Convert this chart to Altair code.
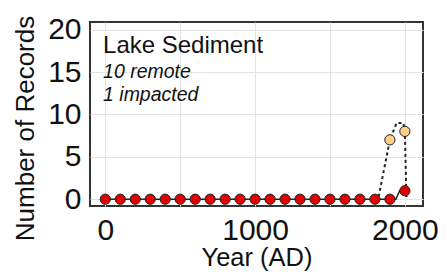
import altair as alt
import pandas as pd

# impacted records (red) and remote records (orange), per century
years = list(range(0, 2001, 100))
impacted = [0] * 20 + [1]
remote_years = [1900, 2000]
remote = [7, 8]

# finer-resolution count lines
imp_line_years = list(range(0, 1901, 100)) + [1940, 1965, 1988, 2015]
imp_line_vals = [0] * 20 + [0, 1, 1, 0.3]
rem_line_years = [1825, 1900, 1945, 1990, 2000, 2010]
rem_line_vals = [0.3, 7, 9, 9, 8, 0.3]

title_text = ["Lake Sediment"]
title_y = [17.3]
sub_text = ["10 remote", "1 impacted"]
sub_y = [14.3, 11.6]

FONT = "Liberation Sans"

df_imp = pd.DataFrame({"year": years, "n": impacted})
df_rem = pd.DataFrame({"year": remote_years, "n": remote})
df_il = pd.DataFrame({"year": imp_line_years, "n": imp_line_vals})
df_rl = pd.DataFrame({"year": rem_line_years, "n": rem_line_vals})
df_t = pd.DataFrame({"t": title_text, "y": title_y, "x": [-15]})
df_s = pd.DataFrame({"t": sub_text, "y": sub_y, "x": [-15, -15]})

xs = alt.Scale(domain=[-102, 2121], nice=False, zero=False)
ys = alt.Scale(domain=[-0.8, 20.9], nice=False, zero=False)

xax = alt.Axis(values=[0, 500, 1000, 1500, 2000],
               labelExpr="datum.value % 1000 == 0 ? datum.label : ''",
               format="d", title="Year (AD)", grid=True, ticks=False, domain=False,
               labelFontSize=30, labelPadding=9, titleFontSize=25.5,
               titleY=59, titleBaseline="alphabetic",
               labelFont=FONT, titleFont=FONT, labelColor="#111", titleColor="#111",
               titleFontWeight="normal", gridColor="#e3e3e3", labelFlush=False)
yax = alt.Axis(values=[0, 2.5, 5, 7.5, 10, 12.5, 15, 17.5, 20],
               labelExpr="datum.value % 5 == 0 ? datum.label : ''",
               title="Number of Records", grid=True, ticks=False, domain=False,
               labelFontSize=30, labelPadding=9, titleFontSize=26,
               titleX=-57, titleY=106, titleAngle=270, titleAlign="center", titleBaseline="alphabetic",
               labelFont=FONT, titleFont=FONT, labelColor="#111", titleColor="#111",
               titleFontWeight="normal", gridColor="#e3e3e3", labelFlush=False)

X = alt.X("year:Q", scale=xs)
Y = alt.Y("n:Q", scale=ys)

rem_line = alt.Chart(df_rl).mark_line(color="#222", strokeWidth=2, strokeDash=[3, 3]).encode(
    x=alt.X("year:Q", scale=xs, axis=xax), y=alt.Y("n:Q", scale=ys, axis=yax))
imp_line = alt.Chart(df_il).mark_line(color="#222", strokeWidth=1.5).encode(x=X, y=Y)
imp_pts = alt.Chart(df_imp).mark_point(filled=True, fill="#e00000", stroke="#222", strokeWidth=1,
                                       size=105, opacity=1, shape="circle").encode(x=X, y=Y)
rem_pts = alt.Chart(df_rem).mark_point(filled=True, fill="#fcd088", stroke="#222", strokeWidth=1,
                                       size=105, opacity=1, shape="circle").encode(x=X, y=Y)
ann1 = alt.Chart(df_t).mark_text(align="left", baseline="alphabetic", font=FONT, color="#111",
                                 fontSize=24).encode(
    x=alt.X("x:Q", scale=xs), y=alt.Y("y:Q", scale=ys), text="t:N")
ann2 = alt.Chart(df_s).mark_text(align="left", baseline="alphabetic", font=FONT, color="#111",
                                 fontSize=19.5, fontStyle="italic").encode(
    x=alt.X("x:Q", scale=xs), y=alt.Y("y:Q", scale=ys), text="t:N")

chart = alt.layer(rem_line, imp_line, imp_pts, rem_pts, ann1, ann2).properties(
    width=333, height=184,
    padding={"left": 82, "top": 14, "right": 16, "bottom": 66},
    autosize=alt.AutoSizeParams(type="none"),
    background="white",
).configure_view(stroke="#333", strokeWidth=2)

chart.save("out.html", embed_options={"renderer": "svg", "actions": False})
